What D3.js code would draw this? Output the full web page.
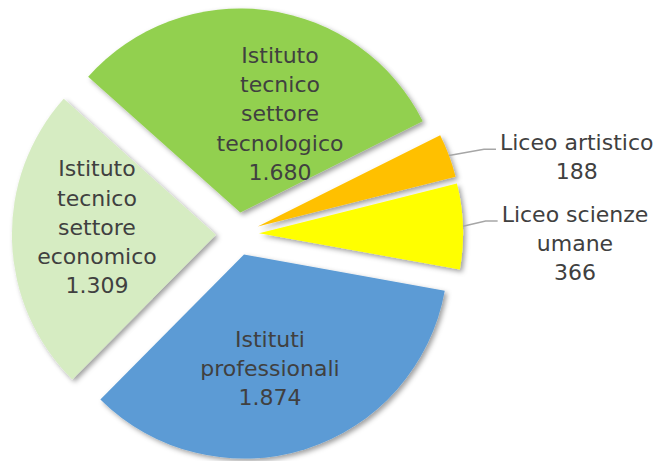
<!DOCTYPE html>
<html>
<head>
<meta charset="utf-8">
<script src="https://cdn.jsdelivr.net/npm/d3@7"></script>
<style>
  html, body { margin: 0; padding: 0; background: #ffffff; }
  svg { display: block; }
  text { font-family: "DejaVu Sans", sans-serif; fill: #404040; }
</style>
</head>
<body>
<div id="chart"></div>
<script>
// ---- data ----
const categories = [
  "Liceo artistico",
  "Liceo scienze umane",
  "Istituti professionali",
  "Istituto tecnico settore economico",
  "Istituto tecnico settore tecnologico"
];
const values = [188, 366, 1874, 1309, 1680];
// wrapped category text as shown in the chart
const categoryLines = [
  ["Liceo artistico"],
  ["Liceo scienze", "umane"],
  ["Istituti", "professionali"],
  ["Istituto", "tecnico", "settore", "economico"],
  ["Istituto", "tecnico", "settore", "tecnologico"]
];
const colors = ["#FFC000", "#FFFF00", "#5B9BD5", "#D6ECC2", "#92D050"];

// ---- layout (not data) ----
const W = 658, H = 461;
const cx = 237.5, cy = 234, R = 204, explode = 21.6;
const startDeg = 63.4;
const fontSize = 22, lineH = 29.3;
// label placement: polar (bearing deg from 12 o'clock, radius px) from pie centre; outside = with leader
const labelPlace = [
  { angle: 77.1, r: 348, outside: true },
  { angle: 91.5, r: 337.6, outside: true },
  { angle: 166.4, r: 138, outside: false },
  { angle: 272.9, r: 140.7, outside: false },
  { angle: 19.4, r: 128, outside: false }
];

const it = d3.formatLocale({ decimal: ",", thousands: ".", grouping: [3], currency: ["€", ""] });
const fmt = it.format(",d");

const svg = d3.select("#chart").append("svg").attr("width", W).attr("height", H);

const defs = svg.append("defs");
const f = defs.append("filter").attr("id", "shadow")
  .attr("x", "-20%").attr("y", "-20%").attr("width", "140%").attr("height", "140%");
f.append("feDropShadow").attr("dx", 2.5).attr("dy", 2.5).attr("stdDeviation", 2.5)
  .attr("flood-color", "#000").attr("flood-opacity", 0.38);

const start = startDeg * Math.PI / 180;
const pie = d3.pie().sort(null).value(d => d).startAngle(start).endAngle(start + 2 * Math.PI);
const arcs = pie(values);
const arc = d3.arc().innerRadius(0).outerRadius(R);

const g = svg.append("g").attr("transform", `translate(${cx},${cy})`);

const off = d => {
  const m = (d.startAngle + d.endAngle) / 2;
  return [explode * Math.sin(m), -explode * Math.cos(m)];
};

g.selectAll("path.slice").data(arcs).join("path")
  .attr("class", "slice")
  .attr("d", arc)
  .attr("fill", (d, i) => colors[i])
  .attr("filter", "url(#shadow)")
  .attr("transform", d => { const o = off(d); return `translate(${o[0]},${o[1]})`; });

// labels
arcs.forEach((d, i) => {
  const lp = labelPlace[i];
  const a = lp.angle * Math.PI / 180;
  const lx = lp.r * Math.sin(a), ly = -lp.r * Math.cos(a);
  const lines = categoryLines[i].concat([fmt(values[i])]);
  const n = lines.length;
  const t = g.append("text")
    .attr("text-anchor", "middle")
    .attr("font-size", fontSize);
  lines.forEach((s, k) => {
    t.append("tspan")
      .attr("x", lx)
      .attr("y", ly + (k - (n - 1) / 2) * lineH + 8)
      .text(s);
  });
  if (lp.outside) {
    let maxW = 0;
    t.selectAll("tspan").each(function () { maxW = Math.max(maxW, this.getComputedTextLength()); });
    const o = off(d);
    const m = (d.startAngle + d.endAngle) / 2;
    const sx = o[0] + R * Math.sin(m), sy = o[1] - R * Math.cos(m);
    const ex = lx - maxW / 2 - 4;
    const ey = ly - (n - 1) / 2 * lineH + 7.5;
    g.append("path")
      .attr("d", d3.line()([[sx, sy], [ex - 12, ey], [ex, ey]]))
      .attr("fill", "none")
      .attr("stroke", "#A6A6A6")
      .attr("stroke-width", 1.5);
  }
});
</script>
</body>
</html>
